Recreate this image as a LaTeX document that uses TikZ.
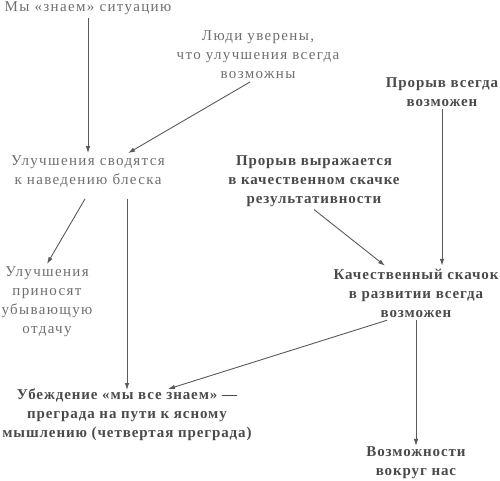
\documentclass[tikz,border=0pt]{standalone}
\usepackage{fontspec}
\setmainfont{Liberation Serif}[LetterSpace=6]
\newfontfamily\thinserif{Liberation Serif}[LetterSpace=9]
\usepackage{xcolor}
\usepackage{tikz}
\usetikzlibrary{arrows.meta}
\definecolor{thingray}{HTML}{6E6E6E}
\definecolor{boldgray}{HTML}{4A4A4A}
\definecolor{arrgray}{HTML}{5A5A5A}

\begin{document}
\begin{tikzpicture}[x=1pt,y=-1pt,
    plain/.style={align=center,inner sep=0pt,outer sep=3pt,text=thingray,font=\thinserif\fontsize{15}{19}\selectfont},
    heavy/.style={align=center,inner sep=0pt,outer sep=3pt,text=boldgray,font=\fontsize{15}{19}\selectfont\bfseries},
    arr/.style={draw=arrgray,line width=0.9pt,-{Latex[length=7pt,width=4.5pt]}}]
            \useasboundingbox (0,0) rectangle (500,480);
            %%% NODES %%%
            \node[plain] (know) at (88,8) {Мы «знаем» ситуацию};
            \node[plain] (people) at (258,55) {Люди уверены,\\что улучшения всегда\\возможны};
            \node[plain] (polish) at (88,172) {Улучшения сводятся\\к наведению блеска};
            \node[plain] (returns) at (47,302) {Улучшения\\приносят\\убывающую\\отдачу};
            \node[heavy] (always) at (442,92) {Прорыв всегда\\возможен};
            \node[heavy] (express) at (314,181) {Прорыв выражается\\в качественном скачке\\результативности};
            \node[heavy] (leap) at (416,293) {Качественный скачок\\в развитии всегда\\возможен};
            \node[heavy] (belief) at (127,415) {Убеждение «мы все знаем» —\\преграда на пути к ясному\\мышлению (четвертая преграда)};
            \node[heavy] (chances) at (416,463) {Возможности\\вокруг нас};

            %%% ARROWS %%%
            \draw[arr] (know) -- (polish);
            \draw[arr] ([xshift=-8pt]people.south) -- ([xshift=40pt]polish.north);
            \draw[arr] ([xshift=-3pt,yshift=-8pt]polish.south) -- (returns.north);
            \draw[arr] ([yshift=-8pt]polish.south -| belief.north) -- ([yshift=-4pt]belief.north);
            \draw[arr] (always.south) -- (always.south |- leap.north);
            \draw[arr] (express.south) -- ([xshift=-31pt]leap.north);
            \draw[arr] ([xshift=-29pt]leap.south) -- ([xshift=41pt,yshift=-3pt]belief.north);
            \draw[arr] (leap.south) -- ([yshift=-2pt]chances.north);
\end{tikzpicture}
\end{document}
